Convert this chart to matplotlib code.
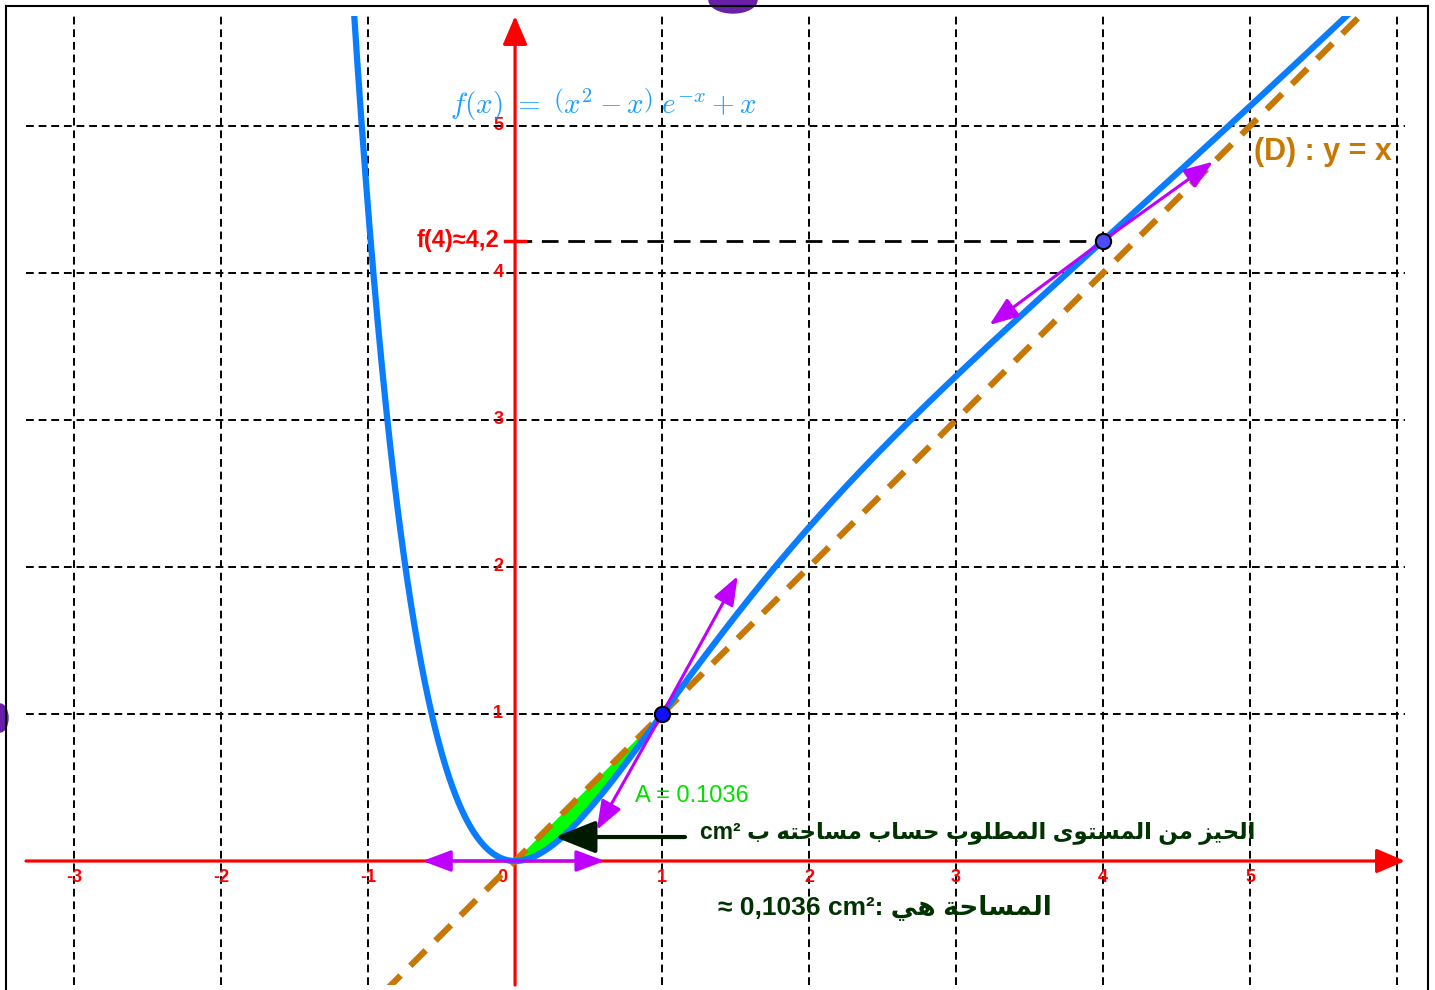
import numpy as np
import matplotlib.pyplot as plt
from matplotlib.lines import Line2D
from matplotlib.patches import Ellipse

plt.rcParams['mathtext.fontset'] = 'cm'

# ---- data ----
grid_x = [-3, -2, -1, 1, 2, 3, 4, 5, 6]
grid_y = [1, 2, 3, 4, 5]
xtick_vals = [-3, -2, -1, 1, 2, 3, 4, 5]
ytick_vals = [1, 2, 3, 4, 5]
points_x = [1, 4]
# purple tangent vectors (tips)
vec_origin = [(-0.63, 0.0), (0.61, 0.0)]
vec_p1 = [(1.515, 1.939), (0.556, 0.211)]
vec_p4 = [(4.748, 4.757), (3.227, 3.646)]
area_txt = "A = 0.1036"
xmin, xmax = -3.327, 6.054
ymin, ymax = -0.8435, 5.748


def f(x):
    return (x**2 - x) * np.exp(-x) + x


# --- tiny arabic shaper (presentation forms + visual order) ---
FORMS = {
    'ا': ('\uFE8D', '\uFE8E', None, None),
    'ب': ('\uFE8F', '\uFE90', '\uFE91', '\uFE92'),
    'ة': ('\uFE93', '\uFE94', None, None),
    'ت': ('\uFE95', '\uFE96', '\uFE97', '\uFE98'),
    'ح': ('\uFEA1', '\uFEA2', '\uFEA3', '\uFEA4'),
    'ز': ('\uFEAF', '\uFEB0', None, None),
    'س': ('\uFEB1', '\uFEB2', '\uFEB3', '\uFEB4'),
    'ط': ('\uFEC1', '\uFEC2', '\uFEC3', '\uFEC4'),
    'ل': ('\uFEDD', '\uFEDE', '\uFEDF', '\uFEE0'),
    'م': ('\uFEE1', '\uFEE2', '\uFEE3', '\uFEE4'),
    'ن': ('\uFEE5', '\uFEE6', '\uFEE7', '\uFEE8'),
    'ه': ('\uFEE9', '\uFEEA', '\uFEEB', '\uFEEC'),
    'و': ('\uFEED', '\uFEEE', None, None),
    'ى': ('\uFEEF', '\uFEF0', None, None),
    'ي': ('\uFEF1', '\uFEF2', '\uFEF3', '\uFEF4'),
}


def rtl(s):
    out = []
    for i, c in enumerate(s):
        if c not in FORMS:
            out.append(c)
            continue
        prev = s[i-1] if i > 0 else ' '
        nxt = s[i+1] if i < len(s)-1 else ' '
        jp = prev in FORMS and FORMS[prev][2] is not None
        jn = nxt in FORMS and FORMS[c][2] is not None
        iso, fin, ini, med = FORMS[c]
        if jp and jn:
            out.append(med)
        elif jp:
            out.append(fin)
        elif jn:
            out.append(ini)
        else:
            out.append(iso)
    return ''.join(reversed(out))


label1 = "cm² " + rtl("الحيز من المستوى المطلوب حساب مساحته ب")
label2 = "≈ 0,1036 cm²: " + rtl("المساحة هي")

fig = plt.figure(figsize=(14.35, 9.9), dpi=100)
W, H = 1435.0, 990.0
ax = fig.add_axes([26/W, 1-985/H, (1405-26)/W, (985-16)/H])
ax.set_xlim(xmin, xmax)
ax.set_ylim(ymin, ymax)
ax.axis('off')

red = '#ff0000'
purple = '#bf00ff'
blue = '#0a7dff'
orange = '#c87800'
dkgreen = '#003300'

# grid
for g in grid_x:
    ax.axvline(g, color='black', lw=1.4, ls=(0, (4, 2.5)), zorder=1)
for g in grid_y:
    ax.axhline(g, color='black', lw=1.4, ls=(0, (4, 2.5)), zorder=1)

# axes with arrows
ax.annotate('', xy=(xmax, 0), xytext=(xmin, 0),
            arrowprops=dict(arrowstyle='-|>,head_length=0.7,head_width=0.3',
                            color=red, lw=2.3, mutation_scale=25,
                            shrinkA=0, shrinkB=0), zorder=2)
ax.annotate('', xy=(0, ymax), xytext=(0, ymin),
            arrowprops=dict(arrowstyle='-|>,head_length=0.7,head_width=0.3',
                            color=red, lw=2.3, mutation_scale=25,
                            shrinkA=0, shrinkB=0), zorder=2)

for v in xtick_vals:
    ax.text(v, -0.115, str(v), color=red, fontsize=13,
            fontweight='bold', ha='center', va='center', family='Liberation Sans')
ax.text(-0.05, -0.115, '0', color=red, fontsize=13, fontweight='bold',
        ha='right', va='center', family='Liberation Sans')
for v in ytick_vals:
    ax.text(-0.08, v, str(v), color=red, fontsize=13, fontweight='bold',
            ha='right', va='center', family='Liberation Sans')

# green area between y=x and the curve on [0,1]
xa = np.linspace(0, 1, 200)
ax.fill_between(xa, f(xa), xa, color='#00ff00', zorder=3)

# line (D): y = x
xl = np.array([xmin, xmax])
ax.plot(xl, xl, color=orange, lw=4.5, ls=(0, (3.5, 2.2)), zorder=4)

# curve
xc = np.linspace(xmin, xmax, 2000)
ax.plot(xc, f(xc), color=blue, lw=4.5, zorder=5, solid_capstyle='butt')

# f(4) marker on y axis and dashed guide
f4 = f(points_x[1])
ax.plot([0, points_x[1]], [f4, f4], color='black', lw=2, ls=(0, (6, 3.5)), zorder=4)
ax.plot([-0.07, 0.07], [f4, f4], color=red, lw=2.5, zorder=6)
ax.text(-0.11, f4, 'f(4)≈4,2', color=red, fontsize=17, fontweight='bold',
        ha='right', va='center', family='Liberation Sans')

# tangent vectors
def vec(p0, p1):
    ax.annotate('', xy=p1, xytext=p0,
                arrowprops=dict(arrowstyle='-|>,head_length=0.8,head_width=0.3',
                                color=purple, lw=2.2, mutation_scale=22,
                                shrinkA=0, shrinkB=0), zorder=7)

for t in vec_origin:
    vec((0, 0), t)
for t in vec_p1:
    vec((points_x[0], f(points_x[0])), t)
for t in vec_p4:
    vec((points_x[1], f4), t)

# points
ax.plot([points_x[0]], [f(points_x[0])], 'o', ms=11, mfc='#1010ff', mec='black', mew=1.5, zorder=9)
ax.plot([points_x[1]], [f4], 'o', ms=11, mfc='#4d4dff', mec='black', mew=1.5, zorder=9)

# labels
ax.text(-0.44, 5.14, r'$f(x)\ =\ \left(x^2-x\right)\ e^{-x}+x$', color='#1a9fff',
        fontsize=21, ha='left', va='center', zorder=8)
ax.text(5.03, 4.82, '(D) : y = x', color=orange, fontsize=22, fontweight='bold',
        ha='left', va='center', family='Liberation Sans', zorder=8)
ax.text(0.816, 0.44, area_txt, color='#00e000', fontsize=17, ha='left', va='center',
        family='Liberation Sans', zorder=8)

ax.annotate('', xy=(0.272, 0.163), xytext=(1.156, 0.163),
            arrowprops=dict(arrowstyle='-|>,head_length=1.0,head_width=0.4',
                            color='#001a00', lw=3, mutation_scale=25,
                            shrinkA=0, shrinkB=0), zorder=8)
ax.text(1.259, 0.197, label1, color=dkgreen, fontsize=16.5, fontweight='bold',
        ha='left', va='center', family=['Liberation Sans', 'DejaVu Sans'], zorder=8)
ax.text(1.381, -0.32, label2, color=dkgreen, fontsize=19, fontweight='bold',
        ha='left', va='center', family=['Liberation Sans', 'DejaVu Sans'], zorder=8)

# outer frame
fig.add_artist(Line2D([6/W, 6/W], [0, 1-6/H], color='black', lw=1.5))
fig.add_artist(Line2D([6/W, 1428/W], [1-6/H, 1-6/H], color='black', lw=1.5))
fig.add_artist(Line2D([1428/W, 1428/W], [0, 1-6/H], color='black', lw=1.5))

# bits of neighbouring objects cut by the frame
fig.add_artist(Ellipse((733/W, 1.0), 48/W, 26/H, color='#6a1fa8'))
fig.add_artist(Ellipse((0.0, 1-718/H), 16/W, 28/H, color='#6a1fa8'))

fig.savefig('out.png', dpi=100)
